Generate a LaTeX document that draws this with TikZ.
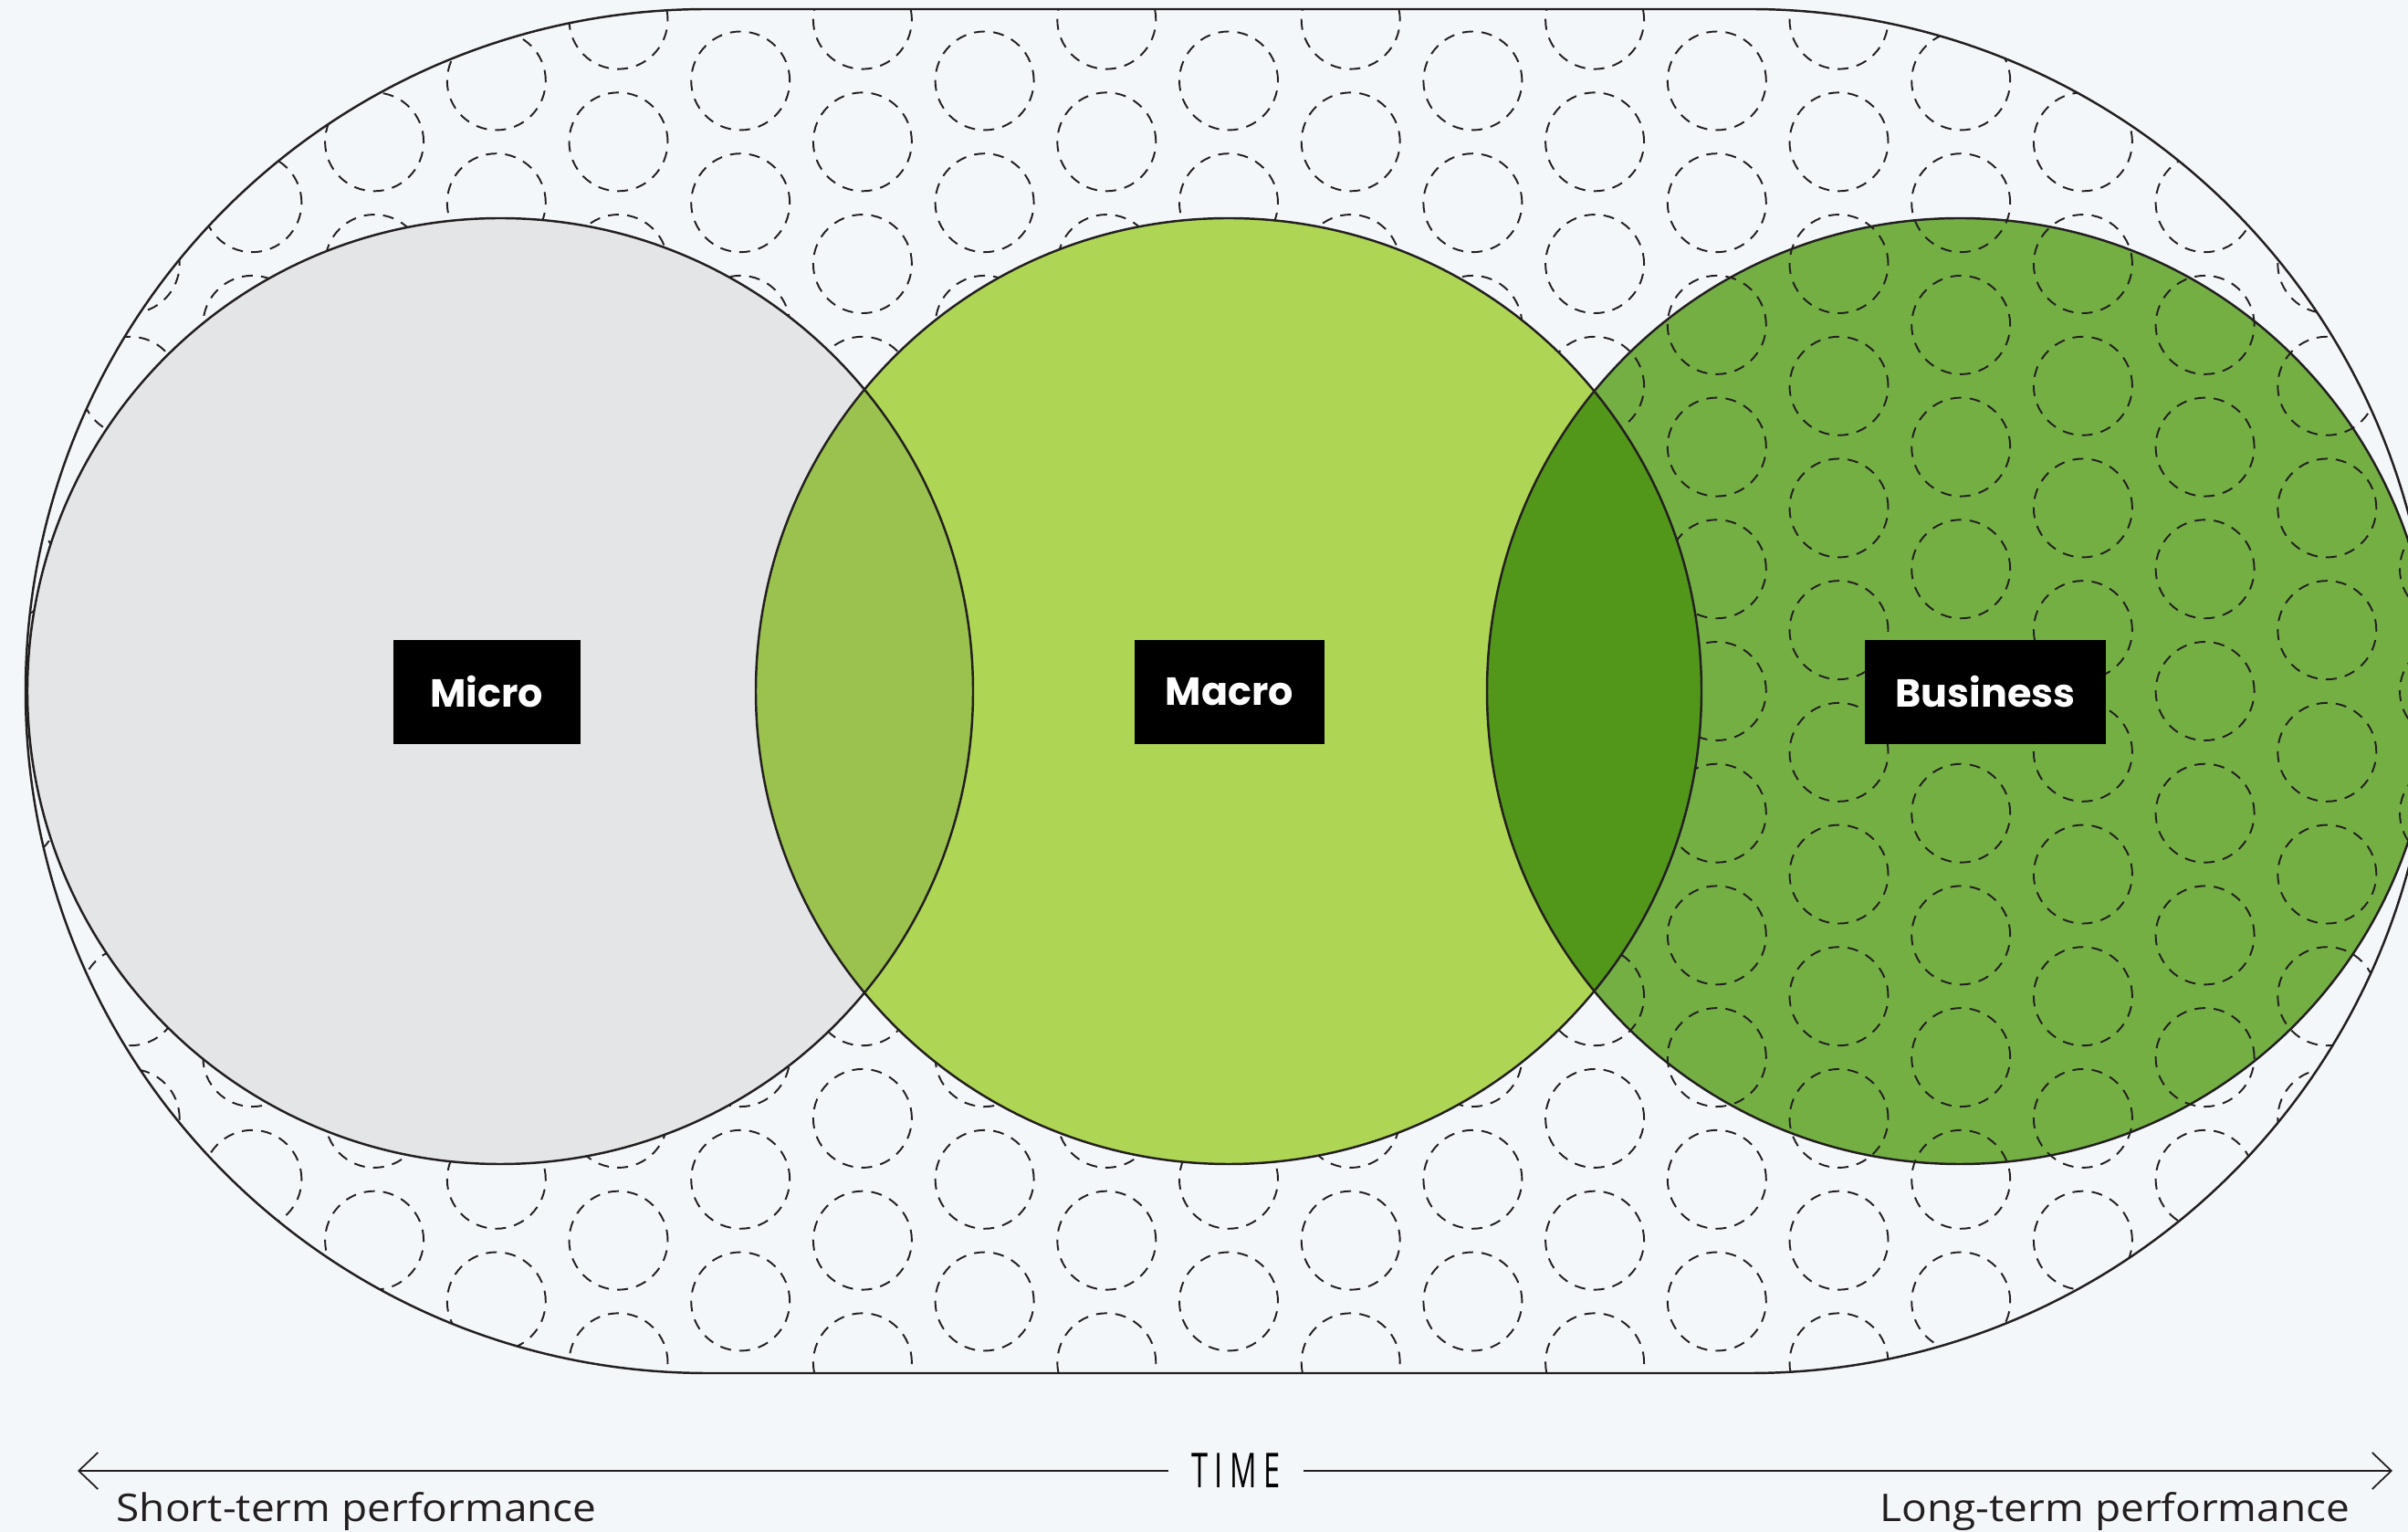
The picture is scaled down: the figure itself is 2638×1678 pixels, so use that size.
\documentclass[tikz,border=0pt]{standalone}
\usepackage{fontspec}
\setmainfont[FakeStretch=1.1]{Open Sans}
\newfontfamily\labelfont{Poppins}
\newfontfamily\timefont[FakeStretch=0.62,LetterSpace=14]{Open Sans}
\usetikzlibrary{arrows.meta}
\definecolor{bg}{HTML}{F4F7FA}
\definecolor{ink}{HTML}{231F20}
\definecolor{microfill}{HTML}{E4E5E7}
\definecolor{macrofill}{HTML}{AED654}
\definecolor{bizfill}{HTML}{74AF44}
\definecolor{micromacro}{HTML}{9BC24E}
\definecolor{macrobiz}{HTML}{52961A}
\newcommand{\stadium}{(775,1668) -- (1917,1668) arc[start angle=90,end angle=-90,radius=747] -- (775,174) arc[start angle=270,end angle=90,radius=747] -- cycle}
\newcommand{\bubbles}{\foreach \i in {-10,...,10}{\foreach \j in {-7,...,7}{\draw[dots] ({1346+133.7*\i},{921+133.7*\j+66.85*mod(abs(\i),2)}) circle[radius=54];}}}
\begin{document}
\begin{tikzpicture}[x=0.1mm, y=0.1mm,
            dots/.style={ink, line width=0.55pt, dash pattern=on 3.4pt off 2.6pt},
            rim/.style={ink, line width=0.7pt},
            tag/.style={fill=black, text=white, font=\labelfont\bfseries\fontsize{12.2}{14}\selectfont, minimum width=20.5mm, minimum height=11.4mm, inner xsep=3.4mm},
            caption/.style={font=\fontsize{11.9}{14}\selectfont, text=ink, inner sep=0pt},
            axis/.style={ink, line width=0.5pt, -{Straight Barb[length=2.1mm,width=4mm]}}
            ]
            \fill[bg] (0,0) rectangle (2638,1678);
            \useasboundingbox (0,0) rectangle (2638,1678);
            \clip (0,0) rectangle (2638,1678);
            \begin{scope}
              \clip \stadium;
              \bubbles
            \end{scope}
            \fill[microfill] (548,921) circle[radius=518];
            \fill[macrofill] (1346,921) circle[radius=518];
            \fill[bizfill] (2147,921) circle[radius=518];
            \begin{scope}
              \clip (2147,921) circle[radius=518];
              \bubbles
              \fill[macrobiz] (1346,921) circle[radius=518];
            \end{scope}
            \begin{scope}
              \clip (548,921) circle[radius=518];
              \fill[micromacro] (1346,921) circle[radius=518];
            \end{scope}
            \draw[rim] \stadium;
            \draw[rim] (548,921) circle[radius=518];
            \draw[rim] (1346,921) circle[radius=518];
            \draw[rim] (2147,921) circle[radius=518];

            \node[tag] (micro) at (533,920) {Micro};
            \node[tag] (macro) at (1347,920) {Macro};
            \node[tag] (business) at (2175,920) {Business};

            \node[font=\timefont\fontsize{15}{18}\selectfont, inner xsep=2.5mm, inner ysep=0pt] (time) at (1354,67) {TIME};
            \coordinate (early) at (85,67);
            \coordinate (late) at (2621,67);
            \draw[axis] (time.west) -- (early);
            \draw[axis] (time.east) -- (late);
            \node[caption, anchor=base west] (short) at (127,11) {Short-term performance};
            \node[caption, anchor=base east] (long) at (2575,11) {Long-term performance};
\end{tikzpicture}
\end{document}
